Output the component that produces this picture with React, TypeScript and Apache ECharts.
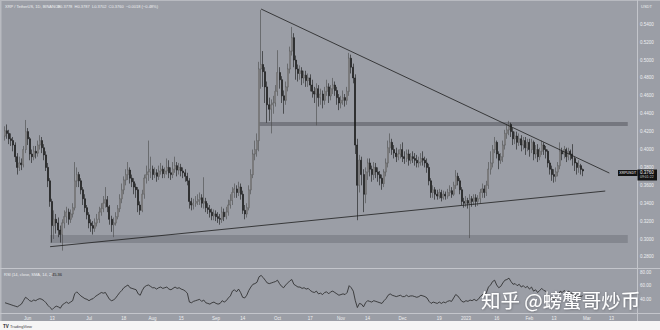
import React, { useEffect, useRef } from 'react';
import * as echarts from 'echarts';

// ---------- data ----------
const START_UTC = Date.UTC(2022, 4, 21); // first candle: 2022-05-21
const DAY_COUNT = 309; // axis runs to 2023-03-25
const FIRST_OPEN = 0.415;

const closes = [
  0.421, 0.418, 0.412, 0.410, 0.405, 0.392, 0.380, 0.385, 0.383, 0.400,
  0.420, 0.412, 0.395, 0.392, 0.398, 0.396, 0.405, 0.410, 0.402, 0.394,
  0.380, 0.365, 0.342, 0.315, 0.322, 0.318, 0.310, 0.305, 0.318, 0.325,
  0.330, 0.322, 0.328, 0.335, 0.365, 0.372, 0.365, 0.355, 0.345, 0.335,
  0.327, 0.318, 0.315, 0.312, 0.318, 0.322, 0.330, 0.334, 0.340, 0.344,
  0.336, 0.322, 0.316, 0.318, 0.325, 0.334, 0.345, 0.355, 0.366, 0.372,
  0.377, 0.368, 0.364, 0.358, 0.355, 0.338, 0.332, 0.350, 0.368, 0.372,
  0.375, 0.378, 0.372, 0.374, 0.370, 0.376, 0.378, 0.373, 0.376, 0.380,
  0.374, 0.372, 0.378, 0.382, 0.377, 0.380, 0.376, 0.374, 0.370, 0.365,
  0.342, 0.338, 0.340, 0.342, 0.344, 0.346, 0.340, 0.342, 0.335, 0.333,
  0.330, 0.326, 0.328, 0.325, 0.323, 0.322, 0.330, 0.325, 0.330, 0.338,
  0.343, 0.352, 0.356, 0.352, 0.358, 0.350, 0.332, 0.328, 0.335, 0.355,
  0.372, 0.395, 0.400, 0.410, 0.490, 0.495, 0.487, 0.470, 0.450, 0.445,
  0.450, 0.452, 0.465, 0.486, 0.478, 0.460, 0.455, 0.470, 0.490, 0.510,
  0.525, 0.500, 0.490, 0.485, 0.488, 0.480, 0.483, 0.477, 0.480, 0.472,
  0.465, 0.462, 0.468, 0.458, 0.462, 0.455, 0.465, 0.470, 0.460, 0.468,
  0.472, 0.466, 0.458, 0.452, 0.455, 0.458, 0.455, 0.465, 0.502, 0.492,
  0.480, 0.405, 0.360, 0.388, 0.372, 0.350, 0.375, 0.385, 0.378, 0.372,
  0.380, 0.375, 0.372, 0.368, 0.362, 0.375, 0.385, 0.402, 0.408, 0.400,
  0.396, 0.392, 0.395, 0.400, 0.392, 0.390, 0.395, 0.388, 0.392, 0.390,
  0.388, 0.385, 0.386, 0.390, 0.388, 0.385, 0.380, 0.365, 0.352, 0.355,
  0.350, 0.348, 0.352, 0.346, 0.350, 0.348, 0.352, 0.354, 0.350, 0.360,
  0.370, 0.365, 0.355, 0.342, 0.340, 0.343, 0.340, 0.345, 0.342, 0.346,
  0.342, 0.345, 0.352, 0.356, 0.352, 0.360, 0.378, 0.385, 0.400, 0.408,
  0.395, 0.388, 0.392, 0.405, 0.418, 0.422, 0.428, 0.420, 0.412, 0.415,
  0.408, 0.412, 0.405, 0.410, 0.402, 0.408, 0.400, 0.408, 0.395, 0.400,
  0.392, 0.398, 0.405, 0.400, 0.398, 0.385, 0.378, 0.372, 0.370, 0.375,
  0.382, 0.398, 0.395, 0.400, 0.392, 0.398, 0.395, 0.390, 0.385, 0.380,
  0.382, 0.3778, 0.376,
];

const highs = [
  0.426, 0.428, 0.422, 0.418, 0.414, 0.408, 0.396, 0.392, 0.390, 0.404,
  0.433, 0.424, 0.414, 0.400, 0.404, 0.404, 0.410, 0.416, 0.414, 0.406,
  0.398, 0.385, 0.368, 0.345, 0.332, 0.328, 0.324, 0.315, 0.322, 0.332,
  0.336, 0.334, 0.333, 0.340, 0.386, 0.380, 0.375, 0.368, 0.358, 0.350,
  0.338, 0.330, 0.322, 0.320, 0.323, 0.328, 0.336, 0.340, 0.348, 0.358,
  0.348, 0.338, 0.326, 0.324, 0.330, 0.338, 0.350, 0.362, 0.370, 0.378,
  0.386, 0.380, 0.372, 0.368, 0.362, 0.358, 0.342, 0.355, 0.372, 0.382,
  0.410, 0.392, 0.382, 0.380, 0.378, 0.382, 0.385, 0.382, 0.380, 0.390,
  0.388, 0.380, 0.386, 0.392, 0.386, 0.385, 0.384, 0.380, 0.378, 0.374,
  0.368, 0.346, 0.345, 0.348, 0.350, 0.352, 0.350, 0.369, 0.346, 0.340,
  0.338, 0.334, 0.333, 0.332, 0.330, 0.328, 0.336, 0.334, 0.336, 0.344,
  0.350, 0.358, 0.362, 0.360, 0.364, 0.362, 0.354, 0.338, 0.340, 0.360,
  0.378, 0.400, 0.410, 0.418, 0.498, 0.556, 0.510, 0.492, 0.476, 0.458,
  0.456, 0.460, 0.472, 0.511, 0.492, 0.482, 0.466, 0.476, 0.496, 0.515,
  0.537, 0.530, 0.505, 0.495, 0.494, 0.492, 0.488, 0.488, 0.485, 0.484,
  0.478, 0.470, 0.474, 0.472, 0.468, 0.466, 0.470, 0.478, 0.474, 0.472,
  0.480, 0.476, 0.470, 0.462, 0.460, 0.466, 0.462, 0.470, 0.508, 0.506,
  0.496, 0.484, 0.412, 0.394, 0.392, 0.378, 0.380, 0.390, 0.390, 0.382,
  0.386, 0.385, 0.380, 0.376, 0.372, 0.378, 0.390, 0.410, 0.418, 0.412,
  0.405, 0.402, 0.400, 0.406, 0.408, 0.398, 0.400, 0.400, 0.396, 0.398,
  0.396, 0.394, 0.392, 0.396, 0.398, 0.392, 0.390, 0.384, 0.368, 0.360,
  0.358, 0.355, 0.356, 0.355, 0.354, 0.353, 0.356, 0.360, 0.358, 0.364,
  0.377, 0.374, 0.368, 0.358, 0.346, 0.348, 0.346, 0.350, 0.348, 0.350,
  0.350, 0.349, 0.356, 0.362, 0.360, 0.365, 0.386, 0.398, 0.405, 0.414,
  0.410, 0.398, 0.396, 0.410, 0.422, 0.428, 0.432, 0.430, 0.424, 0.420,
  0.420, 0.418, 0.416, 0.414, 0.414, 0.412, 0.412, 0.412, 0.410, 0.405,
  0.406, 0.402, 0.410, 0.408, 0.404, 0.400, 0.388, 0.382, 0.378, 0.380,
  0.386, 0.408, 0.402, 0.404, 0.402, 0.402, 0.400, 0.406, 0.392, 0.386,
  0.388, 0.384, 0.3787,
];

const lows = [
  0.410, 0.412, 0.406, 0.404, 0.398, 0.386, 0.372, 0.376, 0.377, 0.380,
  0.396, 0.405, 0.388, 0.385, 0.388, 0.390, 0.392, 0.400, 0.396, 0.388,
  0.376, 0.358, 0.336, 0.296, 0.300, 0.306, 0.302, 0.296, 0.287, 0.312,
  0.318, 0.316, 0.318, 0.324, 0.332, 0.358, 0.358, 0.350, 0.338, 0.330,
  0.322, 0.312, 0.308, 0.305, 0.308, 0.314, 0.318, 0.326, 0.330, 0.335,
  0.330, 0.316, 0.308, 0.302, 0.315, 0.322, 0.330, 0.340, 0.350, 0.360,
  0.366, 0.362, 0.358, 0.350, 0.346, 0.330, 0.327, 0.330, 0.345, 0.362,
  0.365, 0.368, 0.366, 0.368, 0.364, 0.366, 0.372, 0.368, 0.368, 0.372,
  0.368, 0.366, 0.368, 0.374, 0.370, 0.372, 0.370, 0.368, 0.364, 0.360,
  0.334, 0.332, 0.333, 0.336, 0.338, 0.338, 0.335, 0.334, 0.330, 0.328,
  0.324, 0.321, 0.321, 0.320, 0.318, 0.316, 0.318, 0.320, 0.322, 0.326,
  0.334, 0.338, 0.346, 0.346, 0.348, 0.344, 0.328, 0.322, 0.324, 0.332,
  0.350, 0.368, 0.388, 0.392, 0.398, 0.468, 0.470, 0.452, 0.430, 0.432,
  0.418, 0.440, 0.448, 0.460, 0.468, 0.452, 0.440, 0.450, 0.465, 0.485,
  0.505, 0.492, 0.478, 0.476, 0.478, 0.472, 0.474, 0.470, 0.470, 0.465,
  0.458, 0.452, 0.427, 0.448, 0.450, 0.446, 0.450, 0.460, 0.452, 0.455,
  0.462, 0.460, 0.450, 0.444, 0.446, 0.450, 0.448, 0.450, 0.460, 0.485,
  0.474, 0.395, 0.321, 0.352, 0.360, 0.330, 0.340, 0.366, 0.370, 0.364,
  0.366, 0.368, 0.364, 0.360, 0.355, 0.358, 0.370, 0.380, 0.396, 0.394,
  0.390, 0.386, 0.388, 0.390, 0.386, 0.384, 0.386, 0.382, 0.384, 0.385,
  0.382, 0.380, 0.380, 0.382, 0.382, 0.380, 0.374, 0.360, 0.346, 0.346,
  0.344, 0.344, 0.345, 0.342, 0.344, 0.344, 0.345, 0.348, 0.346, 0.348,
  0.356, 0.360, 0.350, 0.338, 0.335, 0.336, 0.334, 0.301, 0.336, 0.338,
  0.336, 0.337, 0.340, 0.346, 0.346, 0.348, 0.356, 0.372, 0.380, 0.396,
  0.390, 0.378, 0.384, 0.386, 0.400, 0.412, 0.416, 0.414, 0.405, 0.406,
  0.400, 0.404, 0.398, 0.400, 0.394, 0.398, 0.392, 0.396, 0.388, 0.390,
  0.386, 0.388, 0.394, 0.394, 0.390, 0.380, 0.372, 0.365, 0.363, 0.364,
  0.370, 0.378, 0.388, 0.390, 0.386, 0.388, 0.388, 0.382, 0.376, 0.372,
  0.374, 0.372, 0.3702,
];

const rsiValues = [
  35, 34, 33, 32, 31, 30, 29, 31, 33, 38,
  43, 41, 38, 37, 39, 38, 40, 41, 40, 38,
  35, 31, 28, 25, 28, 30, 29, 27, 32, 34,
  36, 34, 36, 38, 48, 51, 48, 45, 43, 41,
  40, 38, 40, 41, 44, 46, 48, 50, 49, 50,
  45, 40, 38, 39, 42, 46, 50, 53, 57, 59,
  61, 57, 56, 55, 54, 48, 46, 53, 58, 60,
  61, 59, 57, 57, 55, 57, 58, 56, 57, 58,
  55, 54, 56, 58, 56, 57, 55, 54, 52, 49,
  36, 35, 37, 38, 39, 40, 37, 39, 35, 34,
  33, 35, 36, 34, 33, 34, 38, 36, 38, 42,
  45, 52, 54, 51, 55, 50, 43, 42, 46, 53,
  58, 62, 63, 65, 73, 75, 72, 68, 64, 63,
  64, 65, 66, 68, 63, 59, 57, 61, 64, 67,
  69, 62, 60, 58, 58, 56, 57, 55, 56, 53,
  51, 50, 52, 48, 49, 47, 50, 51, 48, 51,
  52, 50, 48, 46, 47, 48, 47, 50, 60, 57,
  52, 38, 28, 34, 33, 29, 35, 38, 37, 36,
  38, 37, 36, 35, 34, 38, 41, 46, 48, 46,
  45, 44, 45, 46, 44, 44, 46, 44, 45, 45,
  44, 43, 44, 46, 45, 44, 42, 37, 34, 36,
  35, 34, 36, 34, 36, 35, 37, 38, 37, 42,
  47, 45, 41, 37, 36, 38, 37, 39, 38, 40,
  38, 40, 44, 47, 45, 50, 58, 61, 66, 68,
  61, 57, 59, 64, 68, 69, 71, 66, 62, 63,
  60, 62, 58, 60, 57, 59, 55, 58, 52, 54,
  50, 53, 56, 53, 52, 46, 43, 41, 40, 42,
  45, 52, 50, 53, 49, 52, 50, 48, 46, 44,
  45, 44, 45.36,
];

const tickLabels: [string, string][] = [
  ['2022-06-01', 'Jun'], ['2022-06-13', '13'], ['2022-07-01', 'Jul'], ['2022-07-18', '18'],
  ['2022-08-01', 'Aug'], ['2022-08-15', '15'], ['2022-09-01', 'Sep'], ['2022-09-14', '14'],
  ['2022-10-01', 'Oct'], ['2022-10-17', '17'], ['2022-11-01', 'Nov'], ['2022-11-14', '14'],
  ['2022-12-01', 'Dec'], ['2022-12-19', '19'], ['2023-01-01', '2023'], ['2023-01-16', '16'],
  ['2023-02-01', 'Feb'], ['2023-02-13', '13'], ['2023-03-01', 'Mar'], ['2023-03-13', '13'],
];

const PRICE_LABEL_MIN = 0.28;
const PRICE_LABEL_MAX = 0.54;

// drawings (date, price)
const resistanceLine: [string, number][] = [['2022-09-23', 0.557], ['2023-03-12', 0.3737]];
const supportLine: [string, number][] = [['2022-06-12', 0.2914], ['2023-03-10', 0.3536]];
const upperZone = { from: '2022-09-22', to: '2023-03-21', top: 0.4307, bottom: 0.4263 };
const lowerZone = { from: '2022-06-12', to: '2023-03-21', top: 0.3045, bottom: 0.2955 };

const headerSymbol = 'XRP / TetherUS, 1D, BINANCE';
const headerValues = 'O0.3778  H0.3787  L0.3702  C0.3760  −0.0018 (−0.48%)';
const rsiHeader = 'RSI (14, close, SMA, 14, 2)';
const countdown = '09:01:22';
const watermark = '知乎 @螃蟹哥炒币';

// ---------- helpers ----------
const pad = (n: number) => (n < 10 ? '0' + n : '' + n);
const fmtDate = (t: number) => {
  const d = new Date(t);
  return `${d.getUTCFullYear()}-${pad(d.getUTCMonth() + 1)}-${pad(d.getUTCDate())}`;
};

const BG = '#9b9ea6';
const LIGHT = '#eeeff1';
const DIVIDER = '#c3c5cb';
const FONT = 'Liberation Sans, Arial, sans-serif';

export default function App() {
  const ref = useRef<HTMLDivElement>(null);

  useEffect(() => {
    if (!ref.current) return;
    const chart = echarts.init(ref.current, undefined, { renderer: 'svg' });

    const categories = Array.from({ length: DAY_COUNT }, (_, i) => fmtDate(START_UTC + i * 86400000));
    const candles = closes.map((c, i) => {
      const o = i === 0 ? FIRST_OPEN : closes[i - 1];
      return [o, c, Math.min(lows[i], o, c), Math.max(highs[i], o, c)];
    });
    const tickMap = new Map(tickLabels);

    const baseGraphic: any[] = [
      { id: 'bottomStrip', type: 'rect', shape: { x: 0, y: 321, width: 660, height: 9 }, style: { fill: '#f5f5f5' }, z: 10 },
      { id: 'leftEdge', type: 'rect', shape: { x: 0, y: 0, width: 1.5, height: 321 }, style: { fill: '#b8bac0' }, z: 10 },
      { id: 'topEdge', type: 'rect', shape: { x: 0, y: 0, width: 660, height: 1 }, style: { fill: '#b8bac0' }, z: 10 },
      { id: 'div1', type: 'line', shape: { x1: 0, y1: 268.5, x2: 660, y2: 268.5 }, style: { stroke: DIVIDER, lineWidth: 1 }, z: 10 },
      { id: 'div2', type: 'line', shape: { x1: 0, y1: 313.5, x2: 660, y2: 313.5 }, style: { stroke: DIVIDER, lineWidth: 1 }, z: 10 },
      { id: 'div3', type: 'line', shape: { x1: 637.5, y1: 0, x2: 637.5, y2: 321 }, style: { stroke: DIVIDER, lineWidth: 1 }, z: 10 },
      { id: 'hdr1', type: 'text', x: 5, y: 6, style: { text: headerSymbol, fill: LIGHT, font: `4px ${FONT}`, textVerticalAlign: 'middle' }, z: 20 },
      { id: 'hdr2', type: 'text', x: 57, y: 6, style: { text: headerValues, fill: LIGHT, font: `4px ${FONT}`, textVerticalAlign: 'middle' }, z: 20 },
      { id: 'usdt', type: 'text', x: 641, y: 6, style: { text: 'USDT', fill: LIGHT, font: `4px ${FONT}`, textVerticalAlign: 'middle' }, z: 20 },
      { id: 'rsiHdr', type: 'text', x: 4, y: 274, style: { text: rsiHeader, fill: LIGHT, font: `4px ${FONT}`, textVerticalAlign: 'middle' }, z: 20 },
      { id: 'rsiVal', type: 'text', x: 52, y: 274, style: { text: String(rsiValues[rsiValues.length - 1]), fill: '#222', font: `4px ${FONT}`, textVerticalAlign: 'middle' }, z: 20 },
      {
        id: 'wm', type: 'text', x: 481, y: 290,
        style: {
          text: watermark, fill: '#ffffff', font: `19.5px "Noto Sans CJK SC"`, textVerticalAlign: 'top',
          textShadowColor: 'rgba(0,0,0,0.35)', textShadowBlur: 2, textShadowOffsetX: 0.5, textShadowOffsetY: 0.5,
        },
        z: 30,
      },
      { id: 'tvIcon', type: 'text', x: 3, y: 326, style: { text: 'TV', fill: '#222', font: `bold 4.5px ${FONT}`, textVerticalAlign: 'middle' }, z: 30 },
      { id: 'tvText', type: 'text', x: 10, y: 326, style: { text: 'TradingView', fill: '#444', font: `4px ${FONT}`, textVerticalAlign: 'middle' }, z: 30 },
    ];

    const option: any = {
      animation: false,
      backgroundColor: BG,
      textStyle: { fontFamily: FONT },
      grid: [
        { left: 4, right: 23, top: 5, height: 269.8 },
        { left: 4, right: 23, top: 269, height: 44 },
      ],
      xAxis: [
        {
          type: 'category', gridIndex: 0, data: categories, boundaryGap: true,
          axisLine: { show: false }, axisTick: { show: false }, axisLabel: { show: false }, splitLine: { show: false },
        },
        {
          type: 'category', gridIndex: 1, data: categories, boundaryGap: true,
          axisLine: { show: false }, axisTick: { show: false }, splitLine: { show: false },
          axisLabel: {
            show: true, color: LIGHT, fontSize: 4.5, margin: 2.5,
            interval: (_i: number, v: string) => tickMap.has(v),
            formatter: (v: string) => tickMap.get(v) ?? '',
          },
        },
      ],
      yAxis: [
        {
          type: 'value', gridIndex: 0, position: 'right', min: 0.26, max: 0.5615, interval: 0.02,
          axisLine: { show: false }, axisTick: { show: false }, splitLine: { show: false },
          axisLabel: {
            color: LIGHT, fontSize: 4.5, margin: 3, align: 'left',
            formatter: (v: number) => (v < PRICE_LABEL_MIN - 1e-6 || v > PRICE_LABEL_MAX + 1e-6 ? '' : v.toFixed(4)),
          },
        },
        {
          type: 'value', gridIndex: 1, position: 'right', min: 20, max: 84.4, interval: 20,
          axisLine: { show: false }, axisTick: { show: false }, splitLine: { show: false },
          axisLabel: {
            color: LIGHT, fontSize: 4.5, margin: 3, align: 'left',
            formatter: (v: number) => (v <= 20 ? '' : v.toFixed(2)),
          },
        },
      ],
      series: [
        {
          type: 'candlestick', xAxisIndex: 0, yAxisIndex: 0, data: candles, barWidth: 1.5,
          itemStyle: { color: '#e6e6e6', color0: '#151515', borderColor: '#4a4a4a', borderColor0: '#151515', borderWidth: 0.6 },
          markLine: {
            silent: true, symbol: ['none', 'none'], label: { show: false },
            lineStyle: { color: '#1e1e1e', width: 0.8, type: 'solid' },
            data: [
              [{ coord: resistanceLine[0] }, { coord: resistanceLine[1] }],
              [{ coord: supportLine[0] }, { coord: supportLine[1] }],
            ],
          },
          markArea: {
            silent: true, label: { show: false },
            data: [
              [{ coord: [upperZone.from, upperZone.top], itemStyle: { color: 'rgba(70,72,80,0.45)' } }, { coord: [upperZone.to, upperZone.bottom] }],
              [{ coord: [lowerZone.from, lowerZone.top], itemStyle: { color: 'rgba(90,92,100,0.35)' } }, { coord: [lowerZone.to, lowerZone.bottom] }],
            ],
          },
        },
        {
          type: 'line', xAxisIndex: 1, yAxisIndex: 1, data: rsiValues, showSymbol: false, symbol: 'none',
          lineStyle: { color: '#262626', width: 0.8 },
        },
      ],
      graphic: baseGraphic,
    };

    chart.setOption(option);

    // price tags placed through the axis scale
    const lastIdx = closes.length - 1;
    const lastClose = closes[lastIdx];
    const pt = chart.convertToPixel({ xAxisIndex: 0, yAxisIndex: 0 }, [lastIdx, lastClose]) as number[];
    const ty = pt[1];
    chart.setOption({
      graphic: [
        ...baseGraphic,
        { id: 'symTagBg', type: 'rect', shape: { x: 618, y: ty - 1, width: 19.5, height: 6 }, style: { fill: '#131313' }, z: 25 },
        { id: 'symTag', type: 'text', x: 627.7, y: ty + 2, style: { text: 'XRPUSDT', fill: '#f0f0f0', font: `3.5px ${FONT}`, textAlign: 'center', textVerticalAlign: 'middle' }, z: 26 },
        { id: 'prTagBg', type: 'rect', shape: { x: 637.5, y: ty - 1.5, width: 19.5, height: 11 }, style: { fill: '#131313' }, z: 25 },
        { id: 'prTag', type: 'text', x: 640, y: ty + 1.8, style: { text: lastClose.toFixed(4), fill: '#f5f5f5', font: `4.5px ${FONT}`, textVerticalAlign: 'middle' }, z: 26 },
        { id: 'prCd', type: 'text', x: 640, y: ty + 6.5, style: { text: countdown, fill: '#cfcfcf', font: `3.5px ${FONT}`, textVerticalAlign: 'middle' }, z: 26 },
      ],
    });

    return () => chart.dispose();
  }, []);

  return <div ref={ref} style={{ position: 'absolute', left: 0, top: 0, width: 660, height: 330 }} />;
}
